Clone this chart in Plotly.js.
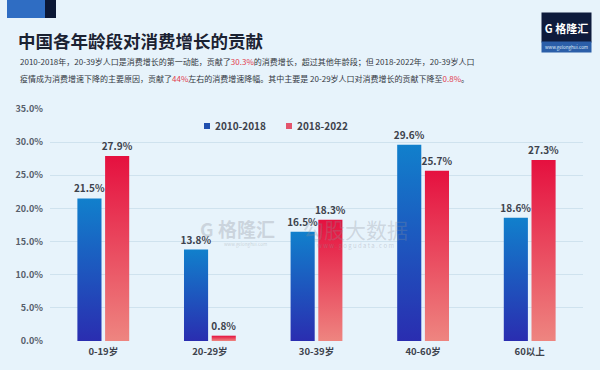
<!DOCTYPE html>
<html>
<head>
<meta charset="utf-8">
<script src="https://cdn.plot.ly/plotly-3.0.1.min.js"></script>
<style>
html,body{margin:0;padding:0;background:#e7f3fb;}
#chart{width:600px;height:370px;}
</style>
</head>
<body>
<div id="chart"></div>
<script>
const categories = ['0-19岁', '20-29岁', '30-39岁', '40-60岁', '60以上'];
const seriesNames = ['2010-2018', '2018-2022'];
const values2010_2018 = [21.5, 13.8, 16.5, 29.6, 18.6];
const values2018_2022 = [27.9, 0.8, 18.3, 25.7, 27.3];
const yTickVals = [0, 5, 10, 15, 20, 25, 30, 35];
const yTickText = yTickVals.map(v => v.toFixed(1) + '%');

const FONT = '"Noto Sans CJK SC", "Noto Sans", sans-serif';
const TXT = '#3d424c';

// pixel helpers for paper coords (plot area: x 50..583, y 109..341)
const L = 50, R = 17, T = 109, B = 29, W = 600, H = 370;
const pw = W - L - R, ph = H - T - B;
const px = x => (x - L) / pw;
const py = y => (H - B - y) / ph;

const labelFont = {family: FONT, size: 10, color: TXT, weight: 'bold'};
const traces = [
  {
    type: 'bar', name: seriesNames[0], x: categories, y: values2010_2018,
    marker: {color: '#1f4fae'}, legend: 'legend',
    texttemplate: '%{y:.1f}%', textposition: 'outside', cliponaxis: false,
    constraintext: 'none', textfont: labelFont
  },
  {
    type: 'bar', name: seriesNames[1], x: categories, y: values2018_2022,
    marker: {color: '#e3546c'}, legend: 'legend2',
    texttemplate: '%{y:.1f}%', textposition: 'outside', cliponaxis: false,
    constraintext: 'none', textfont: labelFont
  }
];

const legendBase = {
  orientation: 'h', xanchor: 'left', yanchor: 'middle',
  bgcolor: 'rgba(0,0,0,0)', borderwidth: 0,
  font: {family: FONT, size: 10, color: TXT, weight: 'bold'}
};

const layout = {
  width: W, height: H,
  paper_bgcolor: '#e7f3fb', plot_bgcolor: 'rgba(0,0,0,0)',
  margin: {l: L, r: R, t: T, b: B, pad: 0},
  font: {family: FONT, color: TXT},
  barmode: 'group', bargap: 0.48, bargroupgap: 0.13,
  showlegend: true,
  legend: Object.assign({}, legendBase, {x: px(175), y: py(126)}),
  legend2: Object.assign({}, legendBase, {x: px(257), y: py(126)}),
  title: {
    text: '中国各年龄段对消费增长的贡献',
    font: {family: FONT, size: 17.5, color: '#1b2232', weight: 'bold'},
    xref: 'container', yref: 'container', x: 18 / W, xanchor: 'left',
    y: 1 - 42 / H, yanchor: 'middle'
  },
  xaxis: {
    type: 'category', showgrid: false, zeroline: false, showline: false, ticks: '',
    ticklabelstandoff: 3,
    tickfont: {family: FONT, size: 9.5, color: TXT, weight: 'bold'}
  },
  yaxis: {
    range: [0, 35], tickvals: yTickVals, ticktext: yTickText,
    showgrid: true, gridcolor: '#cfe2ee', gridwidth: 1, zeroline: false,
    showline: false, ticks: '', ticklabelstandoff: 6,
    tickfont: {family: FONT, size: 9, color: '#575e6b', weight: 'bold'}
  },
  shapes: [
    {type: 'rect', xref: 'paper', yref: 'paper', x0: px(7), x1: px(45), y0: py(0), y1: py(18),
     fillcolor: '#2f6dc3', line: {width: 0}, layer: 'above'},
    {type: 'rect', xref: 'paper', yref: 'paper', x0: px(45), x1: px(56), y0: py(0), y1: py(18),
     fillcolor: '#0b1735', line: {width: 0}, layer: 'above'}
  ],
  annotations: [
    {xref: 'paper', yref: 'paper', x: px(18), y: py(62), xanchor: 'left', yanchor: 'middle',
     showarrow: false, align: 'left',
     font: {family: FONT, size: 8, color: '#333842'},
     text: '2010-2018年，20-39岁人口是消费增长的第一动能，贡献了<span style="color:#e23b4c">30.3%</span>的消费增长，超过其他年龄段；但 2018-2022年，20-39岁人口'},
    {xref: 'paper', yref: 'paper', x: px(18), y: py(79), xanchor: 'left', yanchor: 'middle',
     showarrow: false, align: 'left',
     font: {family: FONT, size: 8, color: '#333842'},
     text: '疫情成为消费增速下降的主要原因，贡献了<span style="color:#e23b4c">44%</span>左右的消费增速降幅。其中主要是 20-29岁人口对消费增长的贡献下降至<span style="color:#e23b4c">0.8%</span>。'},
    // logo
    {xref: 'paper', yref: 'paper', x: px(566.5), y: py(27.5), xanchor: 'center', yanchor: 'middle',
     showarrow: false, width: 49, height: 29, bgcolor: '#0e1b3c', borderpad: 0,
     font: {family: FONT, size: 11, color: '#ffffff', weight: 'bold'}, text: 'G 格隆汇'},
    {xref: 'paper', yref: 'paper', x: px(566.5), y: py(47), xanchor: 'center', yanchor: 'middle',
     showarrow: false, width: 49, height: 10, bgcolor: '#2b5ea8', borderpad: 0,
     font: {family: FONT, size: 4.5, color: '#dfe9f7'}, text: 'www.gelonghui.com'},
    // watermark
    {xref: 'paper', yref: 'paper', x: px(237), y: py(228), xanchor: 'center', yanchor: 'middle',
     showarrow: false, font: {family: FONT, size: 19, color: 'rgba(150,155,165,0.35)', weight: 'bold'},
     text: 'G 格隆汇'},
    {xref: 'paper', yref: 'paper', x: px(245), y: py(244), xanchor: 'center', yanchor: 'middle',
     showarrow: false, font: {family: FONT, size: 4.5, color: 'rgba(150,155,165,0.4)'},
     text: 'www.gelonghui.com'},
    {xref: 'paper', yref: 'paper', x: px(355), y: py(229), xanchor: 'center', yanchor: 'middle',
     showarrow: false, font: {family: FONT, size: 21, color: 'rgba(140,145,155,0.3)'},
     text: '勾股大数据'},
    {xref: 'paper', yref: 'paper', x: px(355), y: py(246), xanchor: 'center', yanchor: 'middle',
     showarrow: false, font: {family: FONT, size: 6, color: 'rgba(140,145,155,0.35)'},
     text: 'w w w . g o g u d a t a . c o m'}
  ]
};

Plotly.newPlot('chart', traces, layout, {staticPlot: true, displayModeBar: false}).then(gd => {
  const svg = gd.querySelector('svg.main-svg');
  const ns = 'http://www.w3.org/2000/svg';
  let defs = svg.querySelector('defs');
  if (!defs) { defs = document.createElementNS(ns, 'defs'); svg.insertBefore(defs, svg.firstChild); }
  const grads = [
    {id: 'gBlue', top: '#1180cc', bot: '#2a2db0'},
    {id: 'gRed', top: '#e5103f', bot: '#ee8580'}
  ];
  grads.forEach(g => {
    const lg = document.createElementNS(ns, 'linearGradient');
    lg.setAttribute('id', g.id);
    lg.setAttribute('x1', '0'); lg.setAttribute('y1', '0');
    lg.setAttribute('x2', '0'); lg.setAttribute('y2', '1');
    [[0, g.top], [1, g.bot]].forEach(([o, c]) => {
      const s = document.createElementNS(ns, 'stop');
      s.setAttribute('offset', o); s.setAttribute('stop-color', c);
      lg.appendChild(s);
    });
    defs.appendChild(lg);
  });
  const barTraces = gd.querySelectorAll('.barlayer .trace');
  barTraces.forEach((t, i) => {
    t.querySelectorAll('.point path').forEach(p => {
      p.style.fill = 'url(#' + grads[i].id + ')';
    });
  });
  gd.querySelectorAll('.legendpoints path').forEach(p => {
    p.setAttribute('transform', 'translate(32,0) scale(0.5)');
  });
});
</script>
</body>
</html>
